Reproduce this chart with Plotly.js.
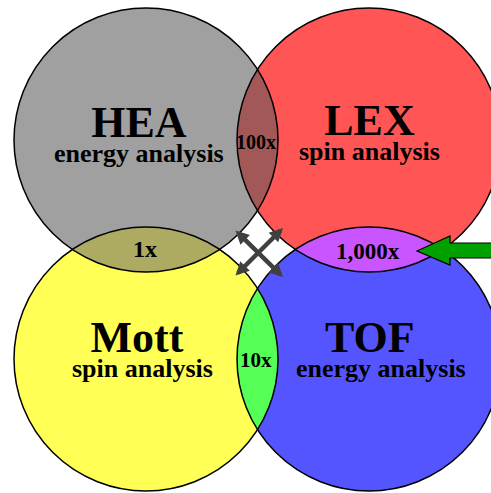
<!DOCTYPE html>
<html>
<head>
<meta charset="utf-8">
<script src="https://cdn.plot.ly/plotly-3.0.1.min.js"></script>
<style>html,body{margin:0;padding:0;background:#fff;}#chart{width:491px;height:493px;}</style>
</head>
<body>
<div id="chart"></div>
<script>
// ---- data ----
const circleNames = ['HEA', 'LEX', 'Mott', 'TOF'];
const circleSubtitles = ['energy analysis', 'spin analysis', 'spin analysis', 'energy analysis'];
const circleColors = ['#a0a0a0', '#ff5555', '#ffff55', '#5555ff'];
const lensPairs = [[0, 1], [0, 2], [1, 3], [2, 3]];
const lensLabels = ['100x', '1x', '1,000x', '10x'];
const lensColors = ['#a35858', '#adaa62', '#c855ff', '#55ff55'];

// ---- geometry (layout) ----
const R = 132;
const centers = [[146, 140], [369, 140], [146, 359], [369, 359]];
const labelPos = [[139, 133], [369, 131], [142, 348], [381, 348]];
const titlePad = [0, 0, 1, 2]; // nbsp after title to offset it from subtitle centre
const lensLabelPos = [[256, 142], [145, 249], [368, 251], [256, 360]];
const lensLabelSize = [20, 24, 23, 21];

const shapes = [];
centers.forEach((c, i) => {
  shapes.push({type: 'circle', xref: 'x', yref: 'y', layer: 'below',
    x0: c[0] - R, x1: c[0] + R, y0: c[1] - R, y1: c[1] + R,
    fillcolor: circleColors[i], line: {width: 0}});
});
centers.forEach((c) => {
  shapes.push({type: 'circle', xref: 'x', yref: 'y', layer: 'above',
    x0: c[0] - R, x1: c[0] + R, y0: c[1] - R, y1: c[1] + R,
    fillcolor: 'rgba(0,0,0,0)', line: {color: '#000', width: 1.5}});
});
// green arrow
shapes.push({type: 'path', xref: 'x', yref: 'y', layer: 'above',
  path: 'M 417 251 L 450 236 L 450 243 L 500 243 L 500 258 L 450 258 L 450 265 Z',
  fillcolor: '#00a000', line: {color: '#000', width: 1.2}});

const traces = lensPairs.map((p, k) => {
  const a = centers[p[0]], b = centers[p[1]];
  const dx = b[0] - a[0], dy = b[1] - a[1];
  const d = Math.hypot(dx, dy);
  const al = Math.acos(d / (2 * R));
  const tab = Math.atan2(dy, dx), tba = tab + Math.PI;
  const xs = [], ys = [];
  const N = 80;
  for (let i = 0; i <= N; i++) {
    const t = tab - al + 2 * al * i / N;
    xs.push(a[0] + R * Math.cos(t)); ys.push(a[1] + R * Math.sin(t));
  }
  for (let i = 0; i <= N; i++) {
    const t = tba - al + 2 * al * i / N;
    xs.push(b[0] + R * Math.cos(t)); ys.push(b[1] + R * Math.sin(t));
  }
  return {x: xs, y: ys, type: 'scatter', mode: 'lines', fill: 'toself',
    fillcolor: lensColors[k], line: {width: 0, color: lensColors[k]},
    hoverinfo: 'skip', showlegend: false};
});

const serif = 'Liberation Serif, Times New Roman, serif';
const annotations = [];
circleNames.forEach((n, i) => {
  const pad = '&nbsp;'.repeat(titlePad[i]);
  annotations.push({x: labelPos[i][0], y: labelPos[i][1], xref: 'x', yref: 'y',
    text: '<b><span style="font-size:44px">' + n + pad + '</span><br><span style="font-size:26px">' +
      circleSubtitles[i] + '</span></b>',
    showarrow: false, align: 'center', font: {family: serif, size: 19, color: '#000'}});
});
lensLabels.forEach((l, i) => {
  annotations.push({x: lensLabelPos[i][0], y: lensLabelPos[i][1], xref: 'x', yref: 'y',
    text: '<b>' + l + '</b>', showarrow: false, font: {family: serif, size: lensLabelSize[i], color: '#000'}});
});
[[283, 277, 234, 229], [283, 228, 234, 277]].forEach(s => {
  annotations.push({x: s[0], y: s[1], ax: s[2], ay: s[3], xref: 'x', yref: 'y', axref: 'x', ayref: 'y',
    text: '', showarrow: true, arrowside: 'end+start', arrowhead: 2, startarrowhead: 2,
    arrowsize: 0.6, startarrowsize: 0.6, arrowwidth: 4.5, arrowcolor: '#404040'});
});

const layout = {
  width: 491, height: 493,
  margin: {l: 0, r: 0, t: 0, b: 0, pad: 0},
  paper_bgcolor: '#fff', plot_bgcolor: '#fff',
  xaxis: {range: [0, 491], visible: false, fixedrange: true},
  yaxis: {range: [493, 0], visible: false, fixedrange: true},
  shapes: shapes, annotations: annotations, showlegend: false
};
Plotly.newPlot('chart', traces, layout, {staticPlot: true, displayModeBar: false});
</script>
</body>
</html>
